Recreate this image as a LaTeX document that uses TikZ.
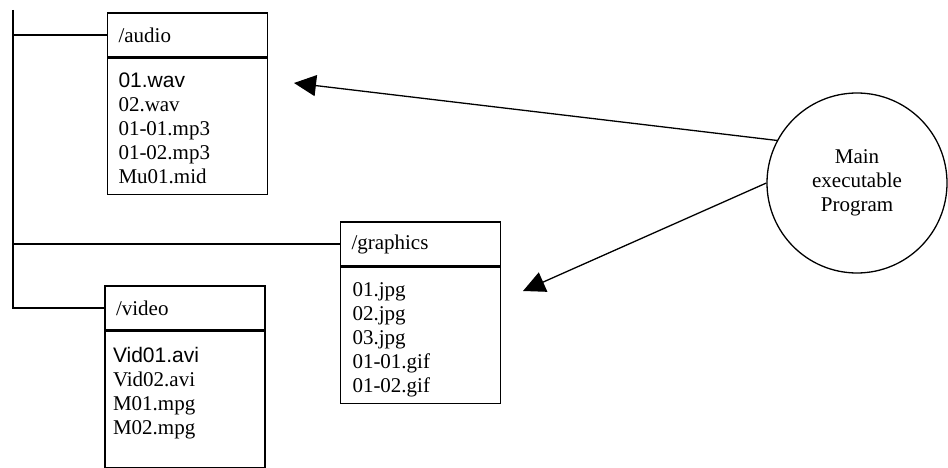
\documentclass[tikz,border=0pt]{standalone}
\usepackage{fontspec}
\setmainfont{Liberation Serif}
\newfontfamily\arialfont{Liberation Sans}
\usetikzlibrary{arrows.meta,positioning}

\begin{document}
\begin{tikzpicture}[
  x=1pt, y=-1pt,
  font=\fontsize{21}{24}\selectfont,
  line width=1.3pt,
  head/.style={draw, text width=138pt, inner xsep=11pt, inner ysep=0pt, minimum height=44pt, align=left},
  body/.style={draw, minimum width=160pt, minimum height=136pt, inner sep=0pt},
  files/.style={align=left, inner sep=0pt},
  arrow/.style={-{Triangle[length=22pt,width=21pt]}, line width=1.3pt}
]
\useasboundingbox (0,0) rectangle (948,468);

% directory boxes
\node[head] (audiohead) at (187.5,35) {/audio};
\node[body, below=0pt of audiohead] (audiobody) {};
\node[files, below right=15pt and 11pt of audiobody.north west] (audiofiles)
  {{\arialfont 01.wav}\\02.wav\\01-01.mp3\\01-02.mp3\\Mu01.mid};

\node[head] (graphicshead) at (420.5,244) {/graphics};
\node[body, below=0pt of graphicshead] (graphicsbody) {};
\node[files, below right=15pt and 12pt of graphicsbody.north west] (graphicsfiles)
  {01.jpg\\02.jpg\\03.jpg\\01-01.gif\\01-02.gif};

\node[head] (videohead) at (185,308) {/video};
\node[body, below=0pt of videohead] (videobody) {};
\node[files, below right=16pt and 8pt of videobody.north west] (videofiles)
  {{\arialfont Vid01.avi}\\Vid02.avi\\M01.mpg\\M02.mpg};

% tree trunk
\coordinate (trunktop) at (13,10);
\draw (trunktop) |- (videohead.west);
\draw (audiohead.west -| trunktop) -- (audiohead.west);
\draw (graphicshead.west -| trunktop) -- (graphicshead.west);

% main program
\node[circle, draw, minimum size=180pt, inner sep=0pt, align=center] (prog) at (857,183)
  {Main\\executable\\Program};

\coordinate (audiotip) at (294,83);
\coordinate (graphicstip) at (523,291);
\draw[arrow] (prog.152) -- (audiotip);
\draw[arrow] (prog.west) -- (graphicstip);

\end{tikzpicture}
\end{document}
